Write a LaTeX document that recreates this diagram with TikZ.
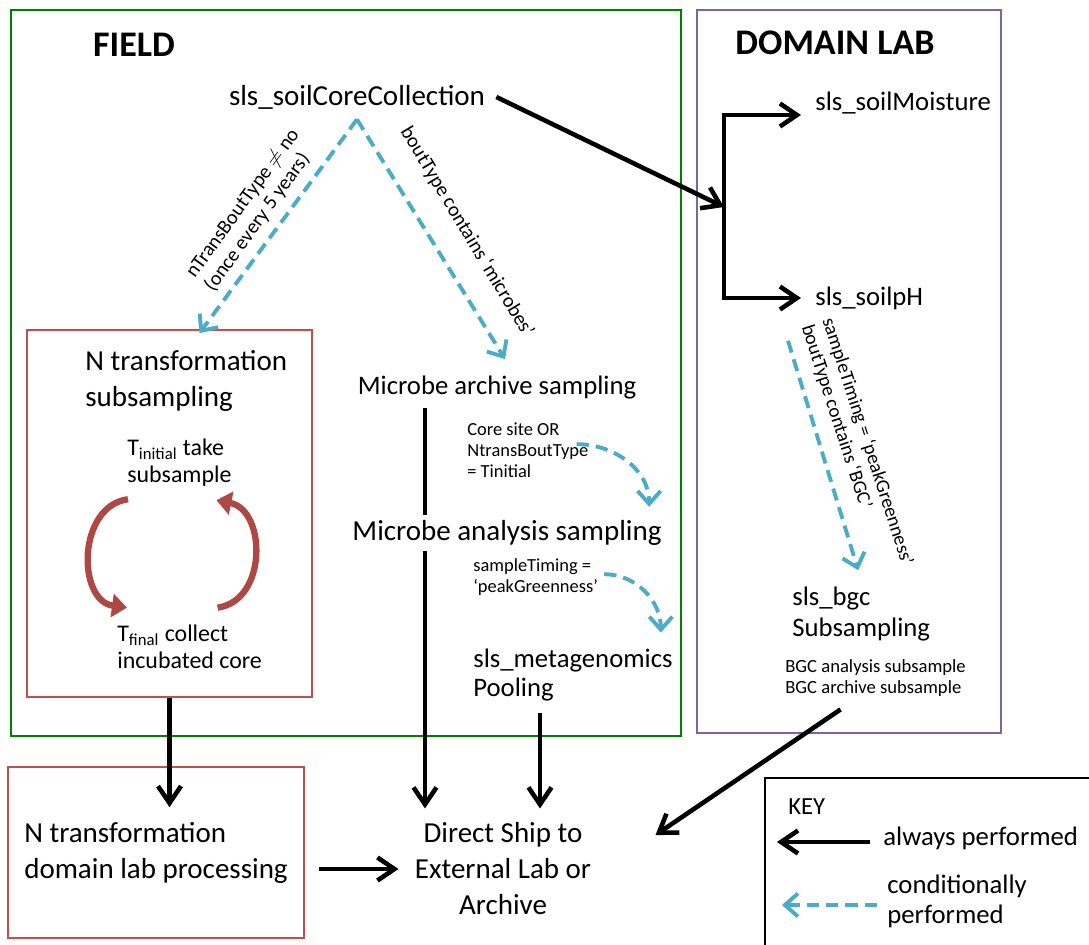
\documentclass[tikz,border=0pt]{standalone}
\usepackage{fontspec}
\setmainfont{Carlito}
\usetikzlibrary{arrows.meta,positioning,calc}
\definecolor{SLgreen}{RGB}{0,128,0}
\definecolor{SLpurple}{RGB}{128,100,162}
\definecolor{SLred}{RGB}{192,80,77}
\definecolor{SLcyan}{RGB}{75,172,198}
\tikzset{
  zone/.style={draw,line width=1.2pt,inner sep=0pt},
  zonetitle/.style={font=\fontsize{20.5}{24}\selectfont\bfseries,inner sep=0pt},
  proc/.style={font=\fontsize{16.5}{20.5}\selectfont,align=center,inner sep=0pt},
  procs/.style={font=\fontsize{15.2}{18}\selectfont,align=center,inner sep=0pt},
  procl/.style={procs,align=left,anchor=west},
  tstep/.style={font=\fontsize{13.6}{15.5}\selectfont,align=left,anchor=west,inner sep=0pt},
  note/.style={font=\fontsize{10.5}{12}\selectfont,align=left,anchor=west,inner sep=0pt},
  lbl/.style={font=\fontsize{11.5}{13}\selectfont,align=left,inner sep=0pt},
  cond/.style={-{Straight Barb[length=2.6mm,width=4.6mm]},line width=2.2pt,draw=SLcyan,dash pattern=on 7pt off 4pt},
  alw/.style={-{Straight Barb[length=3.4mm,width=4.6mm]},line width=2.6pt,draw=black},
  cyc/.style={-{Triangle[length=3mm,width=4.6mm]},line width=3.6pt,draw=SLred!90!black}
}
\begin{document}
\begin{tikzpicture}[x=0.02cm,y=0.02cm]
  \fill[white] (0,0) rectangle (1089,-944);
  \useasboundingbox (0,0) rectangle (1089,-944);

  % frames
  \node[zone,draw=SLgreen,minimum width=13.4cm,minimum height=14.52cm] (field) at (346,-373) {};
  \node[zone,draw=SLpurple,minimum width=6.08cm,minimum height=14.46cm] (lab) at (849,-371.5) {};
  \node[zonetitle] (fieldt) at (134,-45) {FIELD};
  \node[zonetitle] (labt) at (835,-43) {DOMAIN LAB};

  % field steps
  \node[proc] (core) at (357,-97) {sls\_soilCoreCollection};
  \node[zone,draw=SLred,line width=1pt,minimum width=5.7cm,minimum height=7.34cm] (ntbox) at (169.5,-513.5) {};
  \node[proc,align=left,anchor=west] (ntsub) at (85,-381) {N transformation\\subsampling};
  \node[tstep] (tini) at (127,-463) {T\textsubscript{initial} take\\subsample};
  \node[tstep] (tfin) at (117,-647) {T\textsubscript{final} collect\\incubated core};
  \node[procs] (arch) at (497,-388) {Microbe archive sampling};
  \node[note] (coreor) at (467,-450) {Core site OR\\NtransBoutType\\= Tinitial};
  \node[proc] (direct) at (503,-869) {Direct Ship to\\External Lab or\\Archive};
  \draw[alw] ($(arch.south)+(-72,-8)$) -- ($(direct.north)+(-78,14)$);
  \node[proc,fill=white,inner sep=3pt] (anal) at (507,-533) {Microbe analysis sampling};
  \node[note] (sampt) at (473,-577) {sampleTiming =\\‘peakGreenness’};
  \node[procl,font=\fontsize{15.2}{16.5}\selectfont] (meta) at (473,-675) {sls\_metagenomics\\Pooling};
  \node[zone,draw=SLred,line width=1pt,minimum width=5.92cm,minimum height=3.42cm,proc,align=left] (ntlab) at (156,-852.5) {N transformation\\domain lab processing};

  % lab steps
  \node[procl] (moist) at (815,-103) {sls\_soilMoisture};
  \node[procl] (ph) at (815,-298) {sls\_soilpH};
  \node[procl] (bgc) at (792,-614) {sls\_bgc\\Subsampling};
  \node[note,font=\fontsize{10.6}{11.5}\selectfont] (bgcsub) at (785,-678) {BGC analysis subsample\\BGC archive subsample};
  \coordinate (brk) at (724,-207);

  % key
  \node[zone,draw=black,minimum width=6.6cm,minimum height=3.44cm] (keybox) at (930,-864) {};
  \node[procl,font=\fontsize{14}{15}\selectfont] (keyt) at (788,-807) {KEY};
  \node[procl] (always) at (883,-838) {always performed};
  \node[procl,font=\fontsize{15.2}{17}\selectfont] (condl) at (887,-901) {conditionally\\performed};

  % conditions
  \node[lbl,rotate=54] (lbnt) at (252,-210) {nTransBoutType $\neq$ no\\(once every 5 years)};
  \node[lbl,rotate=-59] (lbmic) at (467,-232) {boutType contains ‘microbes’};
  \node[lbl,rotate=-72,font=\fontsize{11}{12.5}\selectfont] (lbbgc) at (857,-445) {sampleTiming = ‘peakGreenness’\\boutType contains ‘BGC’};

  % connectors
  \draw[cond] ($(core.south)+(0,-10)$) -- ($(ntbox.north)+(30,-4)$);
  \draw[cond] ($(core.south)+(0,-10)$) -- ($(arch.north)+(8,17)$);
  \draw[alw] ($(core.east)+(11,0)$) -- (brk);
  \draw[alw] (brk) |- ($(moist.west)+(-14,-12)$);
  \draw[alw] (brk) |- ($(ph.west)+(-14,0)$);
  \draw[cond] ($(coreor.north east)+(-12,-22)$) to[out=0,in=90] ($(anal.north east)+(-18,8)$);
  \draw[cond] ($(sampt.north east)+(6,-16)$) to[out=0,in=90] ($(meta.north east)+(-12,16)$);
  \draw[alw] ($(meta.south west)+(67,-12)$) -- ($(direct.north)+(37,14)$);
  \draw[alw] (ntbox.south) -- ($(ntbox.south |- ntlab.north)+(0,-41)$);
  \draw[alw] ($(ntlab.east |- direct.west)+(14,0)$) -- ($(direct.west)+(-16,0)$);
  \draw[cond] ($(ph.south west)+(-27,-31)$) -- ($(bgc.north)+(-3,16)$);
  \draw[alw] ($(bgcsub.south)+(-35,-13)$) -- ($(direct.east)+(64,34)$);
  \draw[cyc] ($(tini.south west)+(1,-12)$) .. controls +(-51,-7) and +(-50,7) .. ($(tfin.north west)+(10,17)$);
  \draw[cyc] ($(tfin.north)+(28,17)$) .. controls +(50,7) and +(50,-10) .. ($(tini.south)+(37,-13)$);
  \draw[alw] ($(always.west)+(-13,-4)$) -- ($(keybox.west |- always.west)+(13,-4)$);
  \draw[cond] ($(condl.west)+(-10,-4)$) -- ($(keybox.west |- condl.west)+(18,-4)$);
\end{tikzpicture}
\end{document}
